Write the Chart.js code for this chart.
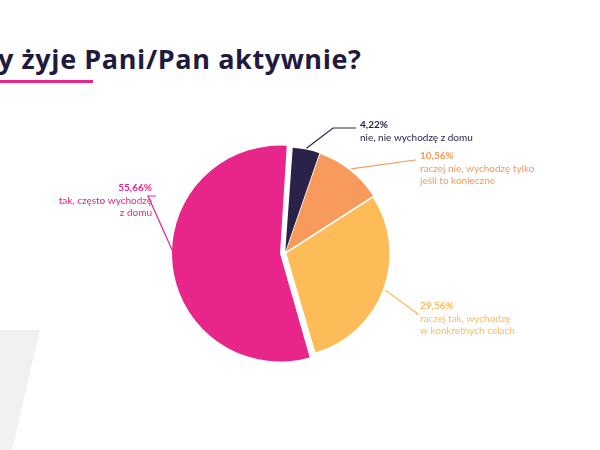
<!DOCTYPE html>
<html><head><meta charset="utf-8">
<script src="https://cdn.jsdelivr.net/npm/chart.js@4"></script>
<style>
body{margin:0;width:600px;height:450px;background:#fff;overflow:hidden;position:relative;font-family:'Lato','Open Sans',sans-serif}
#t{position:absolute;left:-2px;top:40px;font:bold 27px 'Open Sans',sans-serif;color:#1f1b3f;white-space:nowrap;letter-spacing:0.6px}
#u{position:absolute;left:0;top:80px;width:93px;height:3px;background:#e8268a}
#g{position:absolute;left:0;top:330px;width:40px;height:120px;background:#f1f1f3;clip-path:polygon(0 0,100% 0,30% 100%,0 100%)}
canvas{position:absolute;left:0;top:0}
</style></head><body>
<div id="g"></div>
<div id="t">y żyje Pani/Pan aktywnie?</div><div id="u"></div>
<canvas id="c" width="600" height="450"></canvas>
<script>
const categories=["nie, nie wychodzę z domu","raczej nie, wychodzę tylko jeśli to konieczne","raczej tak, wychodzę w konkretnych celach","tak, często wychodzę z domu"];
const values=[4.22,10.56,29.56,55.66];
const valueLabels=["4,22%","10,56%","29,56%","55,66%"];
const labelLines=[["nie, nie wychodzę z domu"],["raczej nie, wychodzę tylko","jeśli to konieczne"],["raczej tak, wychodzę","w konkretnych celach"],["tak, często wychodzę","z domu"]];
const colors=["#2b2249","#f79a5c","#fdbc58","#e8268a"];
const textPos=[[360,125,'left'],[420,156,'left'],[420,306,'left'],[152,188,'right']];
const elbow=[[333,128],[415,160],[418,314],[148,196]];
const labelPlugin={id:'lbl',afterDatasetsDraw(chart){
 const ctx=chart.ctx;const meta=chart.getDatasetMeta(0);
 meta.data.forEach((arc,i)=>{
  const mid=(arc.startAngle+arc.endAngle)/2;
  const r=arc.outerRadius+4;
  const ax=arc.x+Math.cos(mid)*r, ay=arc.y+Math.sin(mid)*r;
  const [tx,ty,al]=textPos[i];
  ctx.save();ctx.strokeStyle=colors[i];ctx.lineWidth=1.2;
  ctx.beginPath();ctx.moveTo(ax,ay);ctx.lineTo(elbow[i][0],elbow[i][1]);
  ctx.lineTo(al==='left'?tx-4:tx+4,elbow[i][1]);ctx.stroke();
  ctx.fillStyle=colors[i];ctx.textAlign=al;ctx.textBaseline='middle';
  ctx.font="bold 10px Lato";ctx.fillText(valueLabels[i],tx,ty);
  ctx.font="10px Lato";
  labelLines[i].forEach((l,j)=>ctx.fillText(l,tx,ty+13+j*12));
  ctx.restore();
 });
}};
new Chart(document.getElementById('c'),{type:'pie',
 data:{labels:categories,datasets:[{data:values,backgroundColor:colors,borderWidth:0,offset:[6,6,6,20]}]},
 options:{responsive:false,animation:false,rotation:4,
  layout:{padding:{left:168,right:198,top:140,bottom:84}},
  plugins:{legend:{display:false},tooltip:{enabled:false}}},
 plugins:[labelPlugin]});
</script></body></html>
